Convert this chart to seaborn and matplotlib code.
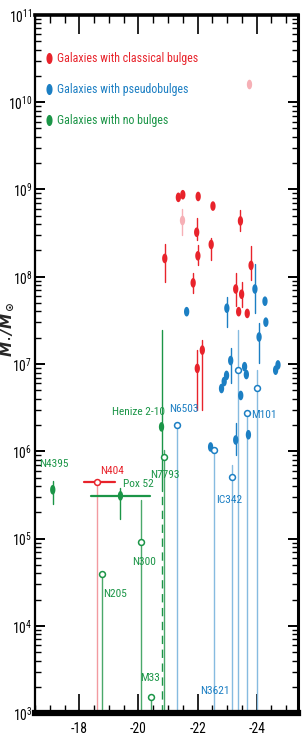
import numpy as np
import pandas as pd
import seaborn as sns
import matplotlib.pyplot as plt
from matplotlib import font_manager
from matplotlib.lines import Line2D
from matplotlib.ticker import MultipleLocator, FixedLocator, LogLocator, NullFormatter

# ---- data (x = bulge/galaxy absolute magnitude, y = log10 black hole mass) ----
# galaxies with classical bulges
cl_mag = [-21.35, -21.50, -22.02, -22.52, -23.45, -21.97, -22.46, -22.01, -20.89,
          -23.81, -21.85, -23.29, -23.49, -23.39, -23.68, -21.99, -22.16]
cl_logm = [8.91, 8.94, 8.92, 8.81, 8.64, 8.51, 8.37, 8.24, 8.21,
           8.13, 7.93, 7.86, 7.80, 7.60, 7.58, 6.95, 7.16]
cl_lo = [8.91, 8.94, 8.92, 8.81, 8.52, 8.42, 8.19, 8.13, 7.94,
         7.96, 7.81, 7.67, 7.65, 7.60, 7.58, 6.47, 6.47]
cl_hi = [8.91, 8.94, 8.92, 8.81, 8.76, 8.67, 8.44, 8.36, 8.37,
         8.35, 8.04, 8.04, 7.94, 7.60, 7.58, 7.16, 7.27]

# pale (uncertain) classical bulges
pale_mag = [-21.46, -23.74]
pale_logm = [8.65, 10.21]
pale_lo = [8.48, 10.21]
pale_hi = [8.78, 10.21]

# N404 (classical, open)
n404_mag = -18.6
n404_logm = 5.65
n404_xerr = [-18.17, -19.2]

# galaxies with pseudobulges
ps_mag = [-21.63, -22.99, -23.94, -24.28, -24.31, -24.08, -23.12, -23.59, -23.65,
          -22.81, -22.90, -22.98, -24.64, -24.72, -23.46, -22.44, -23.29, -23.72]
ps_logm = [7.60, 7.64, 7.86, 7.72, 7.48, 7.31, 7.04, 6.97, 6.88,
           6.72, 6.80, 6.87, 6.93, 6.99, 6.64, 6.05, 6.13, 6.19]
ps_lo = [7.60, 7.42, 7.58, 7.72, 7.48, 7.01, 6.78, 6.97, 6.88,
         6.72, 6.80, 6.87, 6.93, 6.99, 6.64, 6.05, 5.96, 6.19]
ps_hi = [7.60, 7.77, 8.15, 7.72, 7.48, 7.47, 7.18, 6.97, 6.88,
         6.72, 6.80, 6.87, 6.93, 6.99, 6.64, 6.05, 6.32, 6.19]

# pseudobulge upper limits (open)
po_mag = [-21.29, -22.55, -23.15, -23.37, -24.00, -23.68]
po_logm = [6.30, 6.01, 5.71, 6.93, 6.72, 6.44]
po_hi = [6.30, 6.01, 5.84, 7.39, 6.93, 6.44]

# galaxies with no bulges
nb_mag = [-17.10, -19.39, -20.78]
nb_logm = [5.56, 5.49, 6.28]
nb_lo = [5.40, 5.22, 5.55]
nb_hi = [5.66, 5.58, 7.39]
pox_xerr = [-18.4, -20.4]

# no bulge upper limits (open)
no_mag = [-20.86, -20.10, -18.77, -20.41]
no_logm = [5.94, 4.96, 4.59, 3.19]
no_hi = [6.01, 5.44, 4.59, 3.19]

# object names
names = ["N4395", "N404", "Pox 52", "N7793", "Henize 2-10", "N6503", "M101",
         "IC342", "N300", "N205", "M33", "N3621"]
name_kind = ["none", "classical", "none", "none", "none", "pseudo", "pseudo",
             "pseudo", "none", "none", "none", "pseudo"]
name_x = [-16.64, -18.71, -19.49, -20.41, -19.12, -21.05, -23.80,
          -22.64, -19.80, -18.81, -20.07, -22.10]
name_logm = [5.86, 5.78, 5.63, 5.73, 6.45, 6.49, 6.42,
             5.44, 4.73, 4.37, 3.40, 3.25]

legend_labels = ["Galaxies with classical bulges", "Galaxies with pseudobulges",
                 "Galaxies with no bulges"]

x_ticks = [-18, -20, -22, -24]
x_ticklabels = ["-18", "-20", "-22", "-24"]
y_decades = [3, 4, 5, 6, 7, 8, 9, 10, 11]

colors = {"classical": "#e8232b", "pseudo": "#1c7fc3", "none": "#1b9547"}
pale = {"classical": "#f29aa0", "pseudo": "#86bbe0", "none": "#4aa86a"}
pink = "#f6b0b6"

# the reference uses a very narrow face; take one if installed, else a smaller Liberation Sans
avail = {f.name for f in font_manager.fontManager.ttflist}
stretch = "normal"
face, size = "Liberation Sans", 7.0
for cand in ["Liberation Sans Narrow", "DejaVu Sans Condensed", "Roboto Condensed",
             "Open Sans Condensed"]:
    if cand in avail:
        face, size = cand, 8.2
        break
else:
    if any(f.name == "DejaVu Sans" and f.stretch == "condensed"
           for f in font_manager.fontManager.ttflist):
        face, size, stretch = "DejaVu Sans", 7.8, "condensed"

sns.set_style("ticks")
plt.rcParams["font.family"] = [face, "DejaVu Sans"]
plt.rcParams["font.stretch"] = stretch
plt.rcParams["mathtext.fontset"] = "custom"
plt.rcParams["mathtext.rm"] = face
plt.rcParams["mathtext.it"] = face + ":italic"
plt.rcParams["mathtext.bf"] = "DejaVu Sans:bold:italic"

fig = plt.figure(figsize=(3.02, 7.46), dpi=100)
ax = fig.add_axes([0.116, 0.044, 0.871, 0.936])

bottom = 1e3
ell = [(0.55 * np.cos(t), np.sin(t)) for t in np.linspace(0, 2 * np.pi, 40)]


def m(v):
    return np.power(10.0, np.asarray(v, dtype=float))


# error bars / limit lines
for x, lo, hi in zip(cl_mag, cl_lo, cl_hi):
    if hi > lo:
        ax.plot([x, x], m([lo, hi]), color=colors["classical"], lw=1.0, zorder=2)
for x, lo, hi in zip(pale_mag, pale_lo, pale_hi):
    if hi > lo:
        ax.plot([x, x], m([lo, hi]), color=pink, lw=1.0, zorder=2)
for x, lo, hi in zip(ps_mag, ps_lo, ps_hi):
    if hi > lo:
        ax.plot([x, x], m([lo, hi]), color=colors["pseudo"], lw=1.0, zorder=2)
for x, hi in zip(po_mag, po_hi):
    ax.plot([x, x], [bottom, m(hi)], color=pale["pseudo"], lw=1.0, zorder=2)
for x, hi in zip(no_mag, no_hi):
    ax.plot([x, x], [bottom, m(hi)], color=pale["none"], lw=1.0, zorder=2)

ax.plot([n404_mag, n404_mag], [bottom, m(n404_logm)], color=pale["classical"], lw=1.0, zorder=2)
ax.plot(n404_xerr, m([n404_logm, n404_logm]), color=colors["classical"], lw=1.6, zorder=2)

# N4395, Pox 52
for i in range(2):
    ax.plot([nb_mag[i], nb_mag[i]], m([nb_lo[i], nb_hi[i]]), color=colors["none"], lw=1.0, zorder=2)
ax.plot(pox_xerr, m([nb_logm[1], nb_logm[1]]), color=colors["none"], lw=1.6, zorder=2)
# Henize 2-10: solid near the point, dashed down to the axis
ax.plot([nb_mag[2], nb_mag[2]], m([nb_lo[2], nb_hi[2]]), color=colors["none"], lw=1.0, zorder=2)
ax.plot([nb_mag[2], nb_mag[2]], [bottom, m(nb_lo[2])], color=colors["none"], lw=1.0,
        ls=(0, (6, 4)), zorder=2)

# filled points
filled = pd.DataFrame({
    "mag": cl_mag + ps_mag + nb_mag,
    "mass": m(cl_logm + ps_logm + nb_logm),
    "kind": ["classical"] * len(cl_mag) + ["pseudo"] * len(ps_mag) + ["none"] * len(nb_mag),
})
sns.scatterplot(data=filled, x="mag", y="mass", hue="kind", palette=colors,
                marker=ell, s=48, linewidth=0, legend=False, ax=ax, zorder=3)
sns.scatterplot(x=pale_mag, y=m(pale_logm), color=pink, marker=ell, s=48,
                linewidth=0, legend=False, ax=ax, zorder=3)

# open points
opens = pd.DataFrame({
    "mag": [n404_mag] + po_mag + no_mag,
    "mass": m([n404_logm] + po_logm + no_logm),
    "kind": ["classical"] + ["pseudo"] * len(po_mag) + ["none"] * len(no_mag),
})
for kind, grp in opens.groupby("kind"):
    sns.scatterplot(data=grp, x="mag", y="mass", marker="o", s=18, facecolor="white",
                    edgecolor=colors[kind], linewidth=1.1, legend=False, ax=ax, zorder=4)

# names
for name, kind, x, y in zip(names, name_kind, name_x, name_logm):
    ax.text(x, m(y), name, color=colors[kind], fontsize=size, ha="left", va="center", zorder=5)

# legend
handles = [Line2D([], [], ls="none", marker=ell, markersize=8, color=colors[k], markeredgewidth=0)
           for k in ["classical", "pseudo", "none"]]
leg = ax.legend(handles, legend_labels, loc="upper left", bbox_to_anchor=(0.0, 0.962),
                frameon=False, handlelength=0.6, handletextpad=0.3, labelspacing=1.5,
                fontsize=size + 0.4, labelcolor=[colors[k] for k in ["classical", "pseudo", "none"]])

ax.set_yscale("log")
ax.set_ylim(1e3, 1e11)
ax.set_xlim(-16.5, -25.4)
ax.xaxis.set_major_locator(FixedLocator(x_ticks))
ax.xaxis.set_minor_locator(MultipleLocator(0.5))
ax.set_xticklabels(x_ticklabels)
ax.yaxis.set_major_locator(FixedLocator(m(y_decades)))
ax.yaxis.set_minor_locator(LogLocator(base=10, subs=np.arange(2, 10), numticks=20))
ax.yaxis.set_minor_formatter(NullFormatter())
ax.tick_params(axis="both", which="both", direction="in", top=True, right=True, colors="black")
ax.tick_params(axis="x", which="major", length=14, width=1.2, labelsize=size + 1.6, pad=6)
ax.tick_params(axis="x", which="minor", length=6, width=1.0)
ax.tick_params(axis="y", which="major", length=7, width=1.4, labelsize=size + 1.6, pad=2)
ax.tick_params(axis="y", which="minor", length=4, width=1.0)

for side, w in [("top", 2.6), ("bottom", 4.5), ("left", 1.6), ("right", 2.2)]:
    ax.spines[side].set_linewidth(w)
    ax.spines[side].set_color("black")

ax.set_xlabel("")
ax.set_ylabel(r"$\mathbf{M_\bullet / M_\odot}$", fontsize=11)
ax.yaxis.set_label_coords(-0.07, 0.55)

fig.savefig("out.png", dpi=100)
